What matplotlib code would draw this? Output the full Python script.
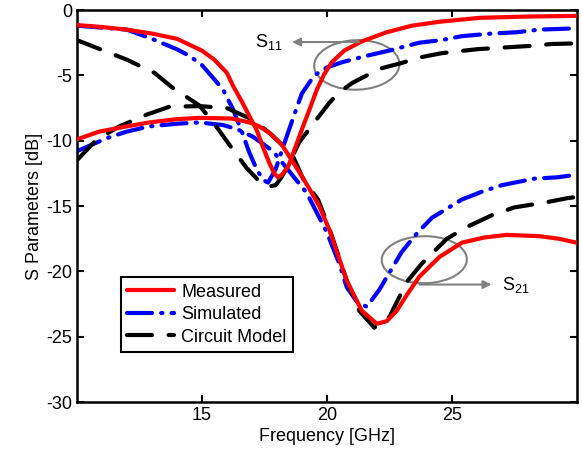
import matplotlib
matplotlib.use("Agg")
import matplotlib.pyplot as plt
from matplotlib.patches import Ellipse

plt.rcParams['font.family'] = ['Liberation Sans', 'DejaVu Sans']
plt.rcParams['axes.unicode_minus'] = False
plt.rcParams['mathtext.default'] = 'regular'

# measured
meas_s11_f = [10, 11, 12, 13, 14, 15, 15.5, 16, 16.25, 16.6, 16.9, 17.2, 17.45, 17.7, 17.9, 18.05, 18.2, 18.45, 18.8, 19.05, 19.3, 19.6, 19.9, 20.2, 20.7, 21.4, 22.4, 23.4, 24.5, 26.1, 28, 30]
meas_s11 = [-1.15, -1.3, -1.5, -1.8, -2.2, -3.1, -3.8, -4.8, -5.8, -7.0, -8.1, -9.2, -10.5, -11.7, -12.5, -12.8, -12.6, -12.0, -10.2, -8.9, -7.65, -6.1, -4.9, -4.0, -3.1, -2.4, -1.7, -1.2, -0.9, -0.6, -0.5, -0.45]
meas_s21_f = [10, 10.9, 12, 12.9, 14, 14.9, 16.2, 16.9, 17.3, 17.7, 18.2, 18.5, 19.0, 19.4, 19.7, 20.1, 20.8, 21.4, 22.0, 22.4, 22.8, 23.2, 23.7, 24.5, 25.4, 26.3, 27.2, 28.5, 29.3, 30]
meas_s21 = [-9.9, -9.3, -8.9, -8.6, -8.35, -8.25, -8.3, -8.6, -8.9, -9.4, -10.3, -11.2, -12.7, -14.0, -15.0, -16.8, -20.7, -23, -24.0, -23.8, -23.0, -21.8, -20.4, -18.9, -17.8, -17.4, -17.2, -17.3, -17.5, -17.8]

# simulated
sim_s11_f = [10, 12, 13, 14, 14.5, 15, 15.5, 15.85, 16.25, 16.6, 16.9, 17.2, 17.45, 17.65, 17.95, 18.3, 18.7, 19.0, 19.5, 20.0, 20.6, 21.6, 22.5, 23.7, 24.6, 25.4, 26.6, 27.6, 28.5, 30]
sim_s11 = [-1.2, -1.5, -2.2, -3.0, -3.5, -4.2, -5.3, -6.1, -7.6, -9.3, -10.9, -12.2, -13.0, -13.2, -12.2, -10.2, -8.0, -6.4, -5.0, -4.4, -4.0, -3.5, -3.1, -2.5, -2.3, -2.0, -1.8, -1.7, -1.5, -1.4]
sim_s21_f = [10, 11.2, 12, 12.9, 14, 14.9, 15.85, 16.4, 17.05, 17.85, 18.4, 19.2, 19.6, 20, 20.5, 20.8, 21.2, 21.6, 22.1, 22.5, 23, 23.6, 24.2, 25.4, 26.2, 27, 28.3, 29.2, 30]
sim_s21 = [-10.8, -9.8, -9.3, -8.9, -8.7, -8.6, -8.8, -9.1, -9.7, -10.8, -12.1, -14, -15.5, -17, -19.4, -21.2, -22.3, -22.7, -21.4, -20.1, -18.5, -17.1, -15.9, -14.5, -13.9, -13.4, -12.9, -12.8, -12.6]

# circuit model
ckt_s11_f = [10, 11.2, 12, 13.1, 13.8, 14.9, 15.5, 16.25, 16.8, 17.3, 17.7, 17.95, 18.15, 18.4, 18.9, 19.5, 20.1, 20.5, 21.0, 22.1, 22.9, 23.8, 24.6, 26.0, 26.8, 28.1, 29.0, 30]
ckt_s11 = [-2.3, -3.2, -3.8, -4.8, -5.9, -7.3, -8.7, -10.7, -12.1, -13.1, -13.5, -13.4, -12.9, -12.1, -10.1, -8.6, -7.1, -6.3, -5.6, -4.5, -4.1, -3.6, -3.3, -3.0, -2.9, -2.75, -2.6, -2.55]
ckt_s21_f = [10, 10.8, 11.7, 12.8, 13.7, 14.9, 16.0, 17.05, 17.8, 18.2, 18.65, 19.05, 19.65, 20.1, 20.8, 21.3, 21.9, 22.5, 23.2, 23.8, 24.8, 25.6, 26.6, 27.5, 28.8, 29.6, 30]
ckt_s21 = [-11.5, -9.9, -8.9, -8.0, -7.4, -7.35, -7.5, -8.4, -9.55, -10.3, -11.2, -12.9, -14.5, -16.7, -20.7, -23.0, -24.3, -23.5, -20.8, -19.4, -17.5, -16.6, -15.7, -15.1, -14.7, -14.4, -14.3]

fig = plt.figure(figsize=(5.82, 4.55), dpi=100)
ax = fig.add_axes([0.132, 0.116, 0.859, 0.862])

lw = 3
fs = 13
ax.plot(meas_s11_f, meas_s11, color='red', lw=lw, label='Measured', zorder=3)
ax.plot(meas_s21_f, meas_s21, color='red', lw=lw, zorder=3)
ax.plot(sim_s11_f, sim_s11, color='blue', lw=lw, dashes=(6, 2.2, 0.3, 2.2), label='Simulated')
ax.plot(sim_s21_f, sim_s21, color='blue', lw=lw, dashes=(6, 2.2, 0.3, 2.2))
ax.plot(ckt_s11_f, ckt_s11, color='black', lw=lw, dashes=(6, 4), label='Circuit Model')
ax.plot(ckt_s21_f, ckt_s21, color='black', lw=lw, dashes=(6, 4))
for ln in ax.lines:
    ln.set_dash_capstyle('round')
    ln.set_solid_capstyle('round')
    ln.set_solid_joinstyle('round')

ax.set_xlim(10, 30)
ax.set_ylim(-30, 0)
ax.set_xticks([15, 20, 25])
ax.set_yticks([0, -5, -10, -15, -20, -25, -30])
ax.tick_params(direction='in', top=True, right=True, length=5, width=1.5, labelsize=fs)
for s in ax.spines.values():
    s.set_linewidth(1.8)
ax.set_xlabel('Frequency [GHz]', fontsize=fs, labelpad=3)
ax.set_ylabel('S Parameters [dB]', fontsize=fs, labelpad=2)

# annotations
gray = '#808080'
ax.add_patch(Ellipse((21.2, -4.2), 3.4, 3.8, angle=-8, fill=False, ec=gray, lw=1.5))
ax.annotate('', xy=(18.5, -2.45), xytext=(21.4, -2.45),
            arrowprops=dict(arrowstyle='-|>', color=gray, lw=1.5, mutation_scale=12))
ax.text(18.25, -2.45, 'S$_{11}$', ha='right', va='center', fontsize=fs)
ax.add_patch(Ellipse((23.9, -19.1), 3.4, 3.6, angle=-8, fill=False, ec=gray, lw=1.5))
ax.annotate('', xy=(26.7, -21.0), xytext=(23.6, -21.0),
            arrowprops=dict(arrowstyle='-|>', color=gray, lw=1.5, mutation_scale=12))
ax.text(27.0, -21.0, 'S$_{21}$', ha='left', va='center', fontsize=fs)

leg = ax.legend(loc='upper left', bbox_to_anchor=(0.088, 0.318), fontsize=fs,
                fancybox=False, edgecolor='black', framealpha=1, handlelength=2.6,
                borderpad=0.35, labelspacing=0.3, handletextpad=0.4, borderaxespad=0)
leg.get_frame().set_linewidth(1.5)

fig.savefig('out.png', dpi=100)
